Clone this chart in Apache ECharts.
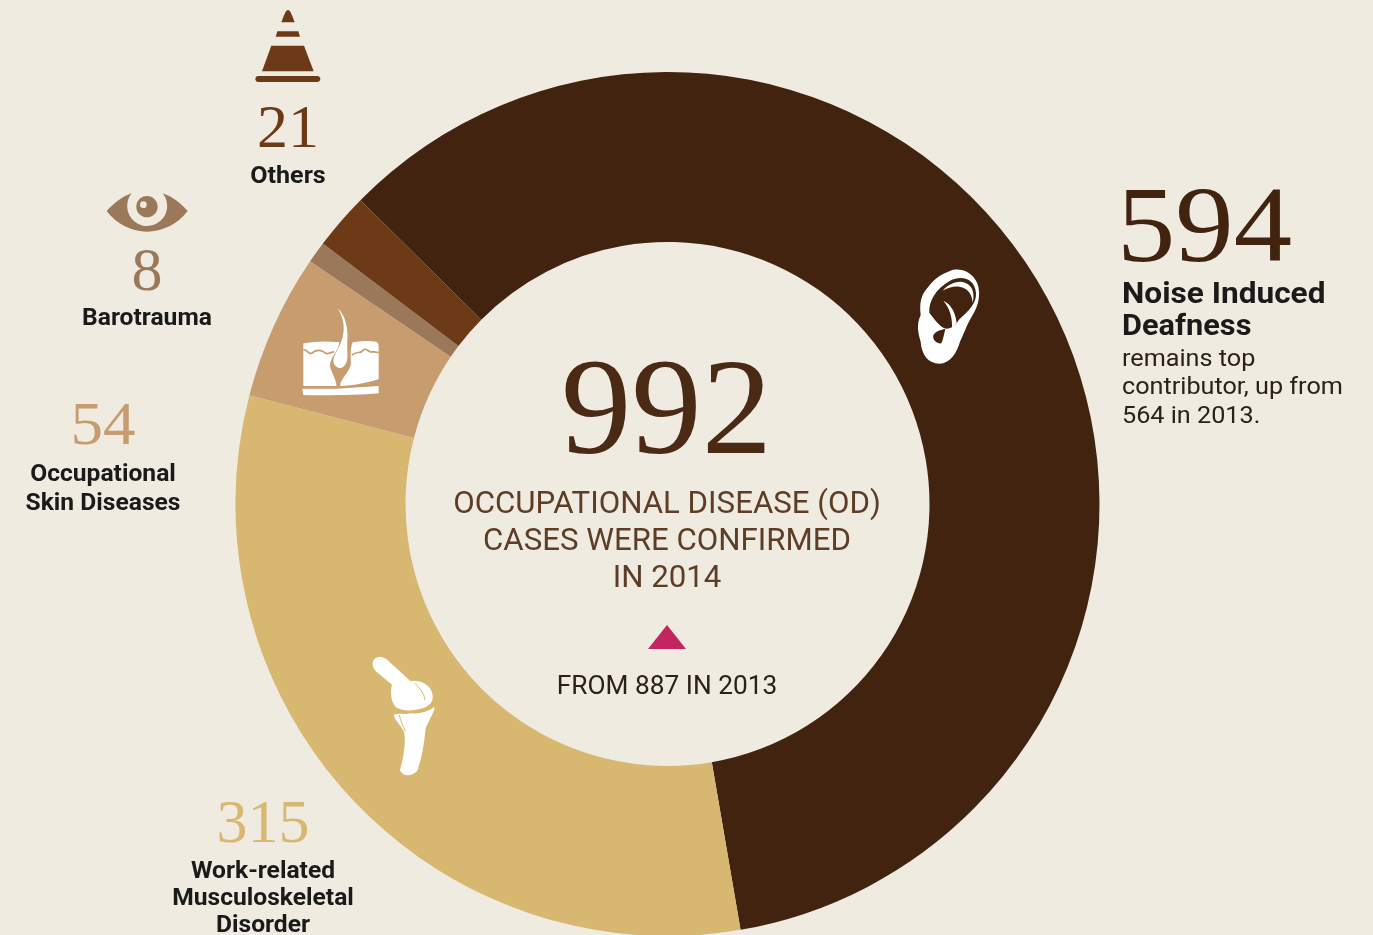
<!DOCTYPE html>
<html>
<head>
<meta charset="utf-8">
<title>Occupational disease cases 2014</title>
<script src="https://cdn.jsdelivr.net/npm/echarts@6/dist/echarts.min.js"></script>
<style>
  html, body { margin: 0; padding: 0; background: #efebe1; }
  #chart { width: 1373px; height: 935px; }
</style>
</head>
<body>
<div id="chart"></div>
<script>
var categories = ['Noise Induced Deafness', 'Work-related Musculoskeletal Disorder', 'Occupational Skin Diseases', 'Barotrauma', 'Others'];
var caseCounts = [594, 315, 54, 8, 21];
var sliceColors = ['#42230f', '#d8b871', '#c79c6e', '#9c785a', '#6d3a18'];
var totalCases = 992;
var centerLines = ['OCCUPATIONAL DISEASE (OD)', 'CASES WERE CONFIRMED', 'IN 2014'];
var fromLine = 'FROM 887 IN 2013';
var noiseNote = ['remains top', 'contributor, up from', '564 in 2013.'];

var BG = '#efebe1';
var SANS = 'Roboto, "Noto Sans", sans-serif';
var SERIF = '"Liberation Serif", serif';

function txt(x, y, str, size, color, opts) {
    opts = opts || {};
    return {
        type: 'text', x: x, y: y, silent: true, z: 10,
        scaleX: opts.scaleX || 1,
        style: {
            text: str, fill: color, fontSize: size,
            fontFamily: opts.family || SANS,
            fontWeight: opts.weight || 'normal',
            align: opts.align || 'center',
            verticalAlign: 'middle'
        }
    };
}
// reference type is more open than Roboto, so bold labels get stretched a bit
function boldTxt(x, y, str, size, align, stretch) {
    return txt(x, y, str, size, '#1a1a1a', { weight: 'bold', scaleX: stretch || 1.07, align: align });
}
function path(d, fill, extra) {
    var s = { fill: fill };
    if (extra) { for (var k in extra) s[k] = extra[k]; }
    return { type: 'path', shape: { pathData: d }, style: s };
}
// icons are drawn in their own zoomed coordinates and scaled down by the group
function icon(x, y, children) {
    return { type: 'group', x: x, y: y, scaleX: 1 / 3, scaleY: 1 / 3, children: children };
}

function iconElements() {
    return [
        icon(230, 0, [
            path('M174 30 C180 30 184 40 194 67 L154 67 C164 40 168 30 174 30 Z', sliceColors[4]),
            path('M142 94 L205 94 L210 110 L137 110 Z', sliceColors[4]),
            path('M124 137 L222 137 L251 214 L96 214 Z', sliceColors[4]),
            path('M85 228 L262 228 C274 228 274 246 262 246 L85 246 C73 246 73 228 85 228 Z', sliceColors[4])
        ]),
        icon(90, 180, [
            path('M50 93 C72 70 95 50 125 40 A60 60 0 1 0 218 40 C248 50 272 70 293 93 C265 132 215 155 171 155 C127 155 78 132 50 93 Z', sliceColors[3]),
            path('M171 48 A32 32 0 1 1 170.9 48 Z M160 64 A10 10 0 1 0 160.1 64 Z', sliceColors[3])
        ]),
        icon(900, 260, [
            path('M150 33 C175 22 215 32 232 70 C244 105 235 140 215 170 C200 195 190 225 180 245 C170 280 150 310 118 311 C85 310 65 285 62 245 C55 220 48 195 62 165 C58 130 62 105 85 80 C105 55 125 42 150 33 Z', '#ffffff'),
            path('M88 158 C85 125 108 85 150 62 C185 45 225 55 228 100 C230 130 205 155 178 178 C168 192 163 204 140 206 C125 205 108 185 88 158 Z', sliceColors[0]),
            path('M100 226 C108 212 122 210 136 206 C132 222 130 238 124 250 C112 252 96 240 100 226 Z', sliceColors[0]),
            path('M128 92 C150 66 190 54 212 80 C222 94 222 112 218 128 C216 104 205 84 178 80 C160 78 142 84 128 92 Z', '#ffffff'),
            path('M130 122 C152 132 166 155 170 188 L156 208 C158 175 150 145 130 122 Z', '#ffffff')
        ]),
        icon(290, 300, [
            path('M40 130 C70 124 110 122 148 127 C146 150 128 165 120 190 C118 210 135 225 140 258 L40 258 Z', '#ffffff'),
            path('M188 127 C215 123 240 122 258 125 C264 127 266 132 266 140 L266 238 C230 248 190 258 150 258 C152 235 176 220 182 195 C184 170 178 150 188 127 Z', '#ffffff'),
            path('M143 25 C165 45 175 80 172 125 C170 160 178 175 165 195 C155 210 135 205 130 185 C130 160 155 140 160 100 C165 70 155 45 143 25 Z', '#ffffff'),
            path('M40 150 C50 145 55 165 65 160 C75 150 85 148 100 155 C110 165 115 160 132 155', 'none', { stroke: sliceColors[2], lineWidth: 5 }),
            path('M186 165 C205 150 210 165 220 150 C228 140 238 162 248 155 L266 158', 'none', { stroke: sliceColors[2], lineWidth: 5 }),
            path('M37 266 L140 266 L266 258 L266 280 C200 286 100 287 40 285 Z', '#ffffff')
        ]),
        icon(360, 650, [
            path('M38 40 C40 22 58 16 78 26 L152 94 C172 88 202 98 214 122 C224 145 217 164 190 174 C160 184 125 184 108 172 C92 155 90 125 96 104 L46 62 C40 54 38 48 38 40 Z', '#ffffff'),
            path('M101 195 C120 187 135 196 150 190 C180 192 205 185 224 170 C222 190 204 215 197 235 C192 280 187 320 172 362 C155 380 128 382 120 360 C128 330 138 290 133 250 C128 230 106 215 101 195 Z', '#ffffff'),
            path('M165 100 C180 115 192 130 195 150', 'none', { stroke: sliceColors[1], lineWidth: 3 }),
            path('M118 195 C122 215 130 228 136 244', 'none', { stroke: sliceColors[1], lineWidth: 3 })
        ]),
        path('M667 625 L686 649 L648 649 Z', '#c2255f')
    ];
}

var option = {
    backgroundColor: BG,
    animation: false,
    series: [{
        type: 'pie',
        center: [667.5, 504],
        radius: [262, 432],
        startAngle: 135.3,
        clockwise: true,
        silent: true,
        label: { show: false },
        labelLine: { show: false },
        data: categories.map(function (name, i) {
            return { name: name, value: caseCounts[i], itemStyle: { color: sliceColors[i] } };
        })
    }, {
        type: 'custom',
        coordinateSystem: 'none',
        silent: true,
        z: 5,
        data: [0],
        renderItem: function () {
            return { type: 'group', children: iconElements() };
        }
    }],
    graphic: [
        txt(666.5, 417, String(totalCases), 138, '#4a2a14', { family: SERIF, scaleX: 1.02 }),
        txt(667, 505, centerLines[0], 31, '#5d3d25', { scaleX: 1.007 }),
        txt(667, 542, centerLines[1], 31, '#5d3d25', { scaleX: 1.007 }),
        txt(667, 579, centerLines[2], 31, '#5d3d25', { scaleX: 1.007 }),
        txt(667, 688, fromLine, 25, '#2b2118', { scaleX: 1.05 }),

        txt(1117, 233, String(caseCounts[0]), 108, '#42230f', { family: SERIF, align: 'left', scaleX: 1.08 }),
        boldTxt(1122, 296, 'Noise Induced', 29, 'left', 1.09),
        boldTxt(1122, 328, 'Deafness', 29, 'left', 1.06),
        txt(1122, 360, noiseNote[0], 24, '#2b2118', { align: 'left', scaleX: 1.05 }),
        txt(1122, 388, noiseNote[1], 24, '#2b2118', { align: 'left', scaleX: 1.05 }),
        txt(1122, 417, noiseNote[2], 24, '#2b2118', { align: 'left', scaleX: 1.05 }),

        txt(288, 131, String(caseCounts[4]), 62, sliceColors[4], { family: SERIF }),
        boldTxt(288, 177, categories[4], 23, 'center', 1.09),

        txt(147, 274, String(caseCounts[3]), 62, sliceColors[3], { family: SERIF }),
        boldTxt(147, 319, categories[3], 23),

        txt(103, 428, String(caseCounts[2]), 62, sliceColors[2], { family: SERIF, scaleX: 1.05 }),
        boldTxt(103, 475, 'Occupational', 23),
        boldTxt(103, 504, 'Skin Diseases', 23),

        txt(263, 826, String(caseCounts[1]), 62, sliceColors[1], { family: SERIF }),
        boldTxt(263, 872, 'Work-related', 23),
        boldTxt(263, 899, 'Musculoskeletal', 23),
        boldTxt(263, 926, 'Disorder', 23)
    ]
};

var chart = echarts.init(document.getElementById('chart'));
chart.setOption(option);
</script>
</body>
</html>
